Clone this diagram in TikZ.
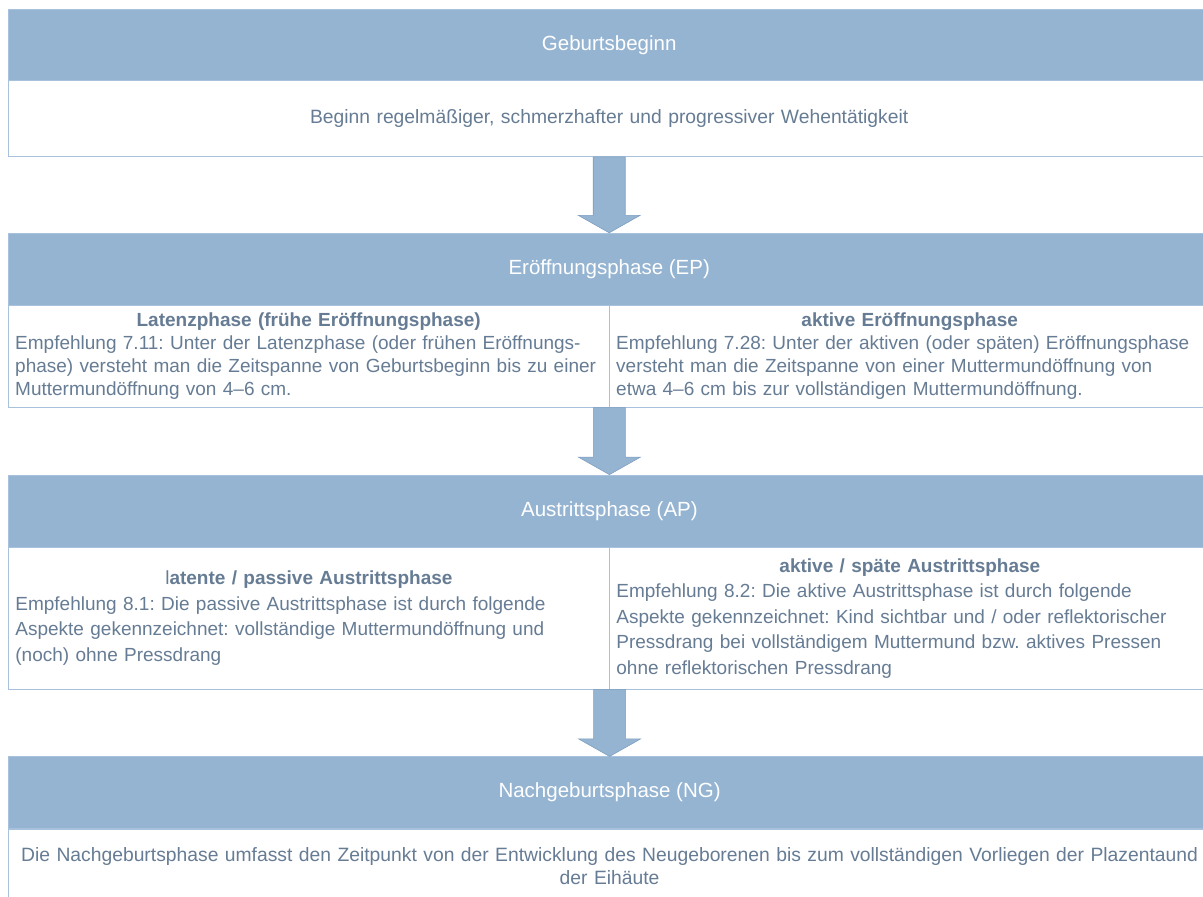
\documentclass[tikz,border=0pt]{standalone}
\usepackage{fontspec}
\setmainfont{Liberation Sans}
\usetikzlibrary{calc, positioning}

\definecolor{phaseblue}{HTML}{95B4D2}
\definecolor{frameblue}{HTML}{A8C1DC}
\definecolor{arrowedge}{HTML}{7F9EC0}
\definecolor{bodytext}{HTML}{667C94}

\hyphenpenalty=10000
\frenchspacing

\tikzset{
  phasehead/.style={fill=phaseblue, draw=frameblue, text=white, minimum width=1202pt,
    minimum height=72pt, inner sep=0pt, font=\fontsize{20.5}{24}\selectfont},
  phasebox/.style={draw=frameblue, fill=white, text=bodytext, inner sep=0pt,
    font=\fontsize{19.3}{23}\selectfont},
  halfbox/.style={phasebox, minimum width=601pt, text width=587pt, align=left,
    font=\fontsize{19}{23}\selectfont},
  blockarrow/.style={fill=phaseblue, draw=arrowedge, line width=0.6pt}
}

\begin{document}
\begin{tikzpicture}
  \useasboundingbox (0,0) rectangle (1203pt,-897pt);
  \clip (0,0) rectangle (1203pt,-897pt);

  % Geburtsbeginn
  \node[phasehead, minimum height=71pt, anchor=north west] (gb) at (8pt,-9pt) {Geburtsbeginn};
  \node[phasebox, minimum width=1202pt, minimum height=76pt, text width=1185pt, align=center,
    below=0pt of gb] (gbtext) {Beginn regelmäßiger, schmerzhafter und progressiver Wehentätigkeit};

  % Eroeffnungsphase
  \node[phasehead, below=76pt of gbtext] (ep) {Eröffnungsphase (EP)};
  \node[halfbox, minimum height=102pt, anchor=north west] (latenz) at (ep.south west)
    {\makebox[\hsize]{\bfseries Latenzphase (frühe Eröffnungsphase)}\\
     Empfehlung 7.11: Unter der Latenzphase (oder frühen Eröffnungs-\\
     phase) versteht man die Zeitspanne von Geburtsbeginn bis zu einer\\
     Muttermundöffnung von 4--6 cm.};
  \node[halfbox, minimum height=102pt, anchor=north east] (aktiv) at (ep.south east)
    {\makebox[\hsize]{\bfseries aktive Eröffnungsphase}\\
     Empfehlung 7.28: Unter der aktiven (oder späten) Eröffnungsphase\\
     versteht man die Zeitspanne von einer Muttermundöffnung von\\
     etwa 4--6 cm bis zur vollständigen Muttermundöffnung.};

  % Austrittsphase
  \node[phasehead, below=67pt of latenz.south east] (ap) {Austrittsphase (AP)};
  \node[halfbox, minimum height=142pt, anchor=north west,
    font=\fontsize{19}{25.5}\selectfont] (passiv) at (ap.south west)
    {\makebox[\hsize]{l\bfseries atente / passive Austrittsphase}\\
     Empfehlung 8.1: Die passive Austrittsphase ist durch folgende\\
     Aspekte gekennzeichnet: vollständige Muttermundöffnung und\\
     (noch) ohne Pressdrang};
  \node[halfbox, minimum height=142pt, anchor=north east,
    font=\fontsize{19}{25.5}\selectfont] (spaet) at (ap.south east)
    {\makebox[\hsize]{\bfseries aktive / späte Austrittsphase}\\
     Empfehlung 8.2: Die aktive Austrittsphase ist durch folgende\\
     Aspekte gekennzeichnet: Kind sichtbar und / oder reflektorischer\\
     Pressdrang bei vollständigem Muttermund bzw. aktives Pressen\\
     ohne reflektorischen Pressdrang};

  % Nachgeburtsphase
  \node[phasehead, below=67pt of passiv.south east] (ng) {Nachgeburtsphase (NG)};
  \node[phasebox, minimum width=1202pt, minimum height=74pt, text width=1190pt, align=center,
    below=0pt of ng] (ngtext)
    {Die Nachgeburtsphase umfasst den Zeitpunkt von der Entwicklung des Neugeborenen bis zum vollständigen Vorliegen der Plazentaund\\
     der Eihäute};

  % Pfeile
  \foreach \from/\to in {gbtext.south/ep.north, latenz.south east/ap.north, passiv.south east/ng.north}
    \draw[blockarrow] ($(\from)+(-16pt,0)$) -- ($(\to)+(-16pt,17.5pt)$) -- ($(\to)+(-31pt,17.5pt)$)
      -- (\to) -- ($(\to)+(31pt,17.5pt)$) -- ($(\to)+(16pt,17.5pt)$) -- ($(\from)+(16pt,0)$) -- cycle;
\end{tikzpicture}
\end{document}
